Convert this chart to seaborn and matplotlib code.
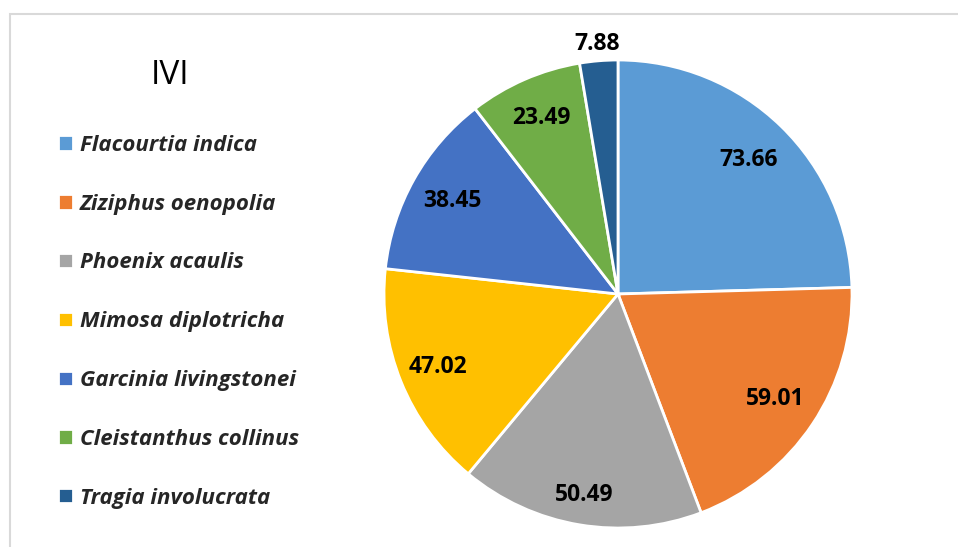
import numpy as np
import matplotlib
matplotlib.use('Agg')
import matplotlib.pyplot as plt
from matplotlib.patches import Rectangle
import seaborn as sns

# Data
species = ['Flacourtia indica', 'Ziziphus oenopolia', 'Phoenix acaulis', 'Mimosa diplotricha',
           'Garcinia livingstonei', 'Cleistanthus collinus', 'Tragia involucrata']
ivi = [73.66, 59.01, 50.49, 47.02, 38.45, 23.49, 7.88]
colors = ['#5B9BD5', '#ED7D31', '#A5A5A5', '#FFC000', '#4472C4', '#70AD47', '#255E91']

# label distance from centre (fraction of radius), as Excel placed them
label_radius = [0.80, 0.81, 0.87, 0.83, 0.81, 0.82, 1.07]

sns.set_theme(style='white')
plt.rcParams['font.family'] = ['Open Sans', 'DejaVu Sans']
palette = sns.color_palette(colors)

fig = plt.figure(figsize=(9.58, 5.47), dpi=100)

# light grey chart-area border (cropped on right and bottom)
fig.patches.append(Rectangle((10 / 958, -0.05), 1.2, 1 - 14 / 547 + 0.05,
                             transform=fig.transFigure, fill=False,
                             edgecolor='#D9D9D9', linewidth=1.5))

ax = fig.add_axes([384 / 958, 19 / 547, 468 / 958, 468 / 547])
wedges, _ = ax.pie(ivi, colors=palette, startangle=90, counterclock=False,
                   wedgeprops=dict(edgecolor='white', linewidth=2))
ax.set_xlim(-1, 1)
ax.set_ylim(-1, 1)
ax.set_aspect('equal')
ax.axis('off')

for w, val, r in zip(wedges, ivi, label_radius):
    ang = np.deg2rad((w.theta1 + w.theta2) / 2)
    ax.text(r * np.cos(ang), r * np.sin(ang), f'{val:.2f}', ha='center', va='center',
            fontsize=16.5, fontweight='bold', color='black', clip_on=False)

fig.text(170 / 958, 1 - 76 / 547, 'IVI', ha='center', va='center', fontsize=24, color='black')

leg = fig.legend(wedges, species, loc='upper left', bbox_to_anchor=(49 / 958, 1 - 126 / 547),
                 frameon=False, handlelength=0.68, handleheight=0.68, handletextpad=0.32,
                 labelspacing=1.70, borderaxespad=0,
                 prop=dict(family=['Open Sans', 'DejaVu Sans'], style='italic', weight='bold', size=16))

fig.savefig('out.png', dpi=100)
